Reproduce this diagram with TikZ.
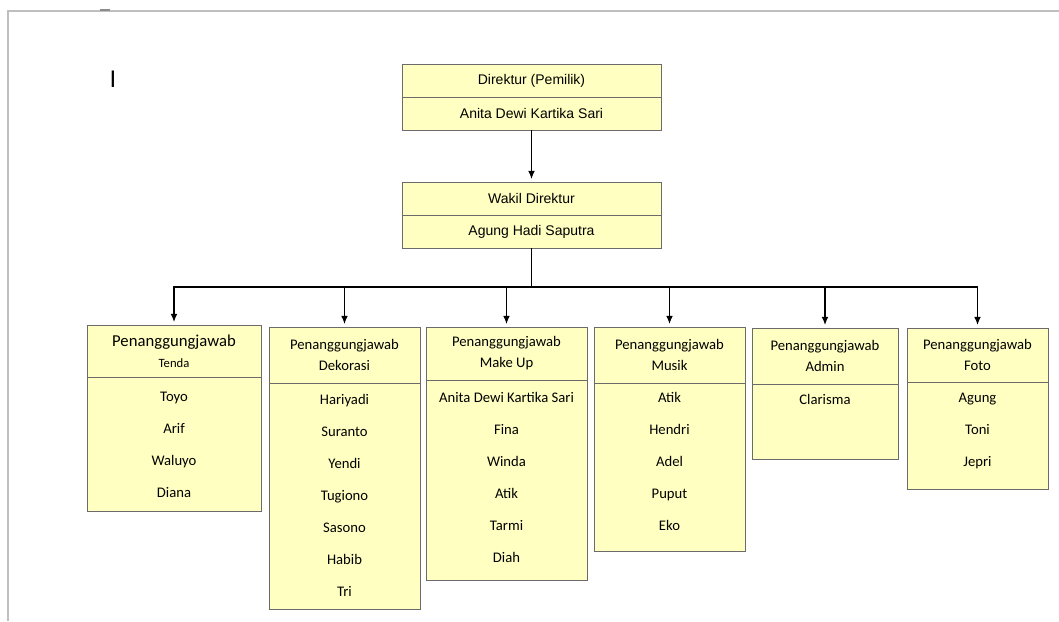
\documentclass[tikz,border=0pt]{standalone}
\usepackage{fontspec}
\setmainfont{Carlito}
\newfontfamily\arialfont{Liberation Sans}
\usetikzlibrary{arrows.meta}
\definecolor{boxyellow}{HTML}{FFFFC2}
\definecolor{boxline}{HTML}{6B6B6B}
\def\px{0.75pt}

\begin{document}
\begin{tikzpicture}[x=0.75pt, y=-0.75pt,
                >={Latex[length=6pt,width=5pt]},
                part/.style={draw=boxline, fill=boxyellow, line width=0.6pt, inner sep=0pt, align=center},
                topbox/.style={part, minimum width=259*\px, minimum height=33*\px, font=\arialfont\fontsize{10.5}{12}\selectfont},
                headbox/.style={part, font=\fontsize{11}{15.75}\selectfont},
                bodybox/.style={part},
                namelist/.style={inner sep=0pt, anchor=north, align=center, font=\fontsize{11}{24}\selectfont},
                link/.style={draw, line width=0.8pt},
                arrowlink/.style={link, ->, shorten >=2pt}]

                \useasboundingbox (0,0) rectangle (1059,621);
                % page border
                \draw[black!25, line width=1.5*\px] (8,621) -- (8,11) -- (1059,11);
                \draw[black!45, line width=1.5*\px] (100,10) -- (110,10);
                \node[font=\arialfont\fontsize{18}{18}\selectfont, inner sep=0pt] (kursor) at (113,79) {I};

                % direktur
                \node[topbox] (direktur) at (531.5,81) {Direktur (Pemilik)};
                \node[topbox] (direkturNama) at (531.5,113.5) {Anita Dewi Kartika Sari};
                \node[topbox] (wakil) at (531.5,198.5) {Wakil Direktur};
                \node[topbox] (wakilNama) at (531.5,231.5) {Agung Hadi Saputra};

                % penanggungjawab
                \node[headbox, minimum width=174*\px, minimum height=52*\px] (tenda) at (174,351)
                    {{\fontsize{12.5}{15}\selectfont Penanggungjawab}\\{\fontsize{9.5}{15}\selectfont Tenda}};
                \node[bodybox, minimum width=174*\px, minimum height=134*\px] (tendaBox) at (174,444) {};
                \node[namelist] (tendaList) at (174,392) {Toyo\\Arif\\Waluyo\\Diana};

                \node[headbox, minimum width=151*\px, minimum height=56*\px] (dekorasi) at (344.5,355) {Penanggungjawab\\Dekorasi};
                \node[bodybox, minimum width=151*\px, minimum height=226*\px] (dekorasiBox) at (344.5,496) {};
                \node[namelist] (dekorasiList) at (344.5,394) {Hariyadi\\Suranto\\Yendi\\Tugiono\\Sasono\\Habib\\Tri};

                \node[headbox, minimum width=161*\px, minimum height=53*\px] (makeup) at (506.5,353.5) {Penanggungjawab\\Make Up};
                \node[bodybox, minimum width=161*\px, minimum height=200*\px] (makeupBox) at (506.5,480) {};
                \node[namelist] (makeupList) at (506.5,392) {Anita Dewi Kartika Sari\\Fina\\Winda\\Atik\\Tarmi\\Diah};

                \node[headbox, minimum width=151*\px, minimum height=56*\px] (musik) at (669.5,355) {Penanggungjawab\\Musik};
                \node[bodybox, minimum width=151*\px, minimum height=168*\px] (musikBox) at (669.5,467) {};
                \node[namelist] (musikList) at (669.5,392) {Atik\\Hendri\\Adel\\Puput\\Eko};

                \node[headbox, minimum width=146*\px, minimum height=56*\px] (admin) at (825,356) {Penanggungjawab\\Admin};
                \node[bodybox, minimum width=146*\px, minimum height=75*\px] (adminBox) at (825,421.5) {};
                \node[namelist] (adminList) at (825,394) {Clarisma};

                \node[headbox, minimum width=141*\px, minimum height=54*\px] (foto) at (977.5,355) {Penanggungjawab\\Foto};
                \node[bodybox, minimum width=141*\px, minimum height=107*\px] (fotoBox) at (977.5,435.5) {};
                \node[namelist] (fotoList) at (977.5,393) {Agung\\Toni\\Jepri};

                % garis
                \coordinate (bus) at (531.5,287);
                \draw[arrowlink] (direkturNama) -- (wakil);
                \draw[link] (wakilNama) -- (bus);
                \draw[arrowlink] (bus) -| (tenda);
                \draw[arrowlink] (bus) -| (dekorasi);
                \draw[arrowlink] (bus) -| (makeup);
                \draw[arrowlink] (bus) -| (musik);
                \draw[arrowlink] (bus) -| (admin);
                \draw[arrowlink] (bus) -| (foto);
\end{tikzpicture}
\end{document}
